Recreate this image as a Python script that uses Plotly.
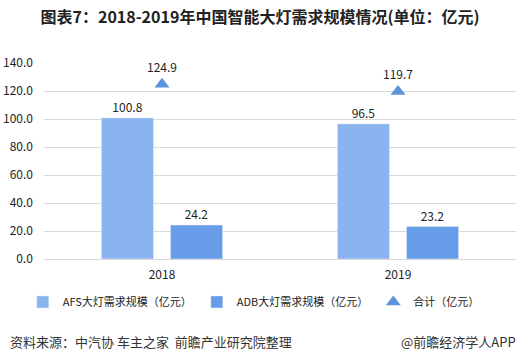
import plotly.graph_objects as go

years = ["2018", "2019"]
afs = [100.8, 96.5]
adb = [24.2, 23.2]
total = [124.9, 119.7]
yticks = [0, 20, 40, 60, 80, 100, 120, 140]

FONT = "Noto Sans CJK SC"

fig = go.Figure()
fig.add_trace(go.Bar(
    x=years, y=afs, name="AFS大灯需求规模（亿元）",
    marker_color="#8AB4F0", text=[f"{v:.1f}" for v in afs],
    textposition="outside", textfont=dict(size=12, color="#222"),
    cliponaxis=False,
))
fig.add_trace(go.Bar(
    x=years, y=adb, name="ADB大灯需求规模（亿元）",
    marker_color="#679DE8", text=[f"{v:.1f}" for v in adb],
    textposition="outside", textfont=dict(size=12, color="#222"),
    cliponaxis=False,
))
fig.add_trace(go.Scatter(
    x=years, y=total, name="合计（亿元）", mode="markers+text",
    marker=dict(symbol="triangle-up", size=13, color="#5B93DC"),
    text=[f"{v:.1f}" for v in total], textposition="top center",
    textfont=dict(size=12, color="#222"), cliponaxis=False,
))

fig.update_layout(
    width=520, height=362,
    margin=dict(l=44, r=4, t=63, b=103),
    paper_bgcolor="white", plot_bgcolor="white",
    font=dict(family=FONT, size=12, color="#333"),
    barmode="group", bargap=0.415, bargroupgap=0.246,
    title=dict(text="<b>图表7：2018-2019年中国智能大灯需求规模情况(单位：亿元)</b>",
               x=0.5, xref="container", xanchor="center", y=0.953, yanchor="middle",
               font=dict(size=16, color="#222", family=FONT)),
    showlegend=True,
    legend=dict(orientation="h", x=-0.045, y=-0.219, xanchor="left", yanchor="middle",
                font=dict(size=11, color="#222"),
                itemwidth=30, tracegroupgap=0, bgcolor="rgba(0,0,0,0)"),
    xaxis=dict(showgrid=False, showline=False, ticks="", ticklabelstandoff=7,
               tickfont=dict(size=12, color="#222")),
    yaxis=dict(range=[0, 140], tickvals=yticks, ticktext=[f"{v:.1f}" for v in yticks],
               showgrid=True, gridcolor="#D9D9D9", gridwidth=1, zeroline=True,
               zerolinecolor="#D9D9D9", zerolinewidth=1, showline=False, ticks="",
               ticklabelstandoff=10, tickfont=dict(size=12, color="#222")),
)

fig.add_annotation(text="资料来源：中汽协 车主之家  前瞻产业研究院整理", xref="paper", yref="paper",
                   x=-36/472, y=-82/196, xanchor="left", yanchor="middle", showarrow=False,
                   font=dict(size=13, color="#333"))
fig.add_annotation(text="@前瞻经济学人APP", xref="paper", yref="paper",
                   x=474/472, y=-82/196, xanchor="right", yanchor="middle", showarrow=False,
                   font=dict(size=13, color="#333"))

fig.write_html("out.html", config={"displayModeBar": False},
               post_script="document.body.style.margin='0';document.body.style.overflow='hidden';")
